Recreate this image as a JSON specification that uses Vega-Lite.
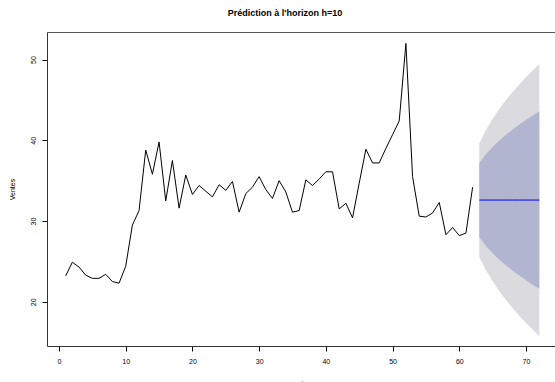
{
"$schema": "https://vega.github.io/schema/vega-lite/v6.json",
"autosize": "none",
"width": 508,
"height": 314,
"padding": {"left": 47, "top": 32, "right": 0, "bottom": 36},
"background": "white",
"title": {"text": "Prédiction à l'horizon h=10", "font": "Liberation Sans", "fontSize": 9, "fontWeight": "bold", "color": "black", "dx": -16, "offset": 7, "baseline": "alphabetic"},
"datasets": {
"hist": [
{"t":1,"v":23.2},{"t":2,"v":24.9},{"t":3,"v":24.3},{"t":4,"v":23.3},{"t":5,"v":22.9},{"t":6,"v":22.9},{"t":7,"v":23.4},{"t":8,"v":22.5},{"t":9,"v":22.3},{"t":10,"v":24.4},
{"t":11,"v":29.5},{"t":12,"v":31.3},{"t":13,"v":38.8},{"t":14,"v":35.8},{"t":15,"v":39.8},{"t":16,"v":32.5},{"t":17,"v":37.5},{"t":18,"v":31.6},{"t":19,"v":35.7},{"t":20,"v":33.3},
{"t":21,"v":34.4},{"t":22,"v":33.7},{"t":23,"v":33.0},{"t":24,"v":34.5},{"t":25,"v":33.8},{"t":26,"v":34.9},{"t":27,"v":31.1},{"t":28,"v":33.4},{"t":29,"v":34.2},{"t":30,"v":35.5},
{"t":31,"v":33.9},{"t":32,"v":32.8},{"t":33,"v":35.0},{"t":34,"v":33.6},{"t":35,"v":31.1},{"t":36,"v":31.3},{"t":37,"v":35.1},{"t":38,"v":34.4},{"t":39,"v":35.2},{"t":40,"v":36.1},
{"t":41,"v":36.1},{"t":42,"v":31.5},{"t":43,"v":32.2},{"t":44,"v":30.4},{"t":45,"v":34.7},{"t":46,"v":38.9},{"t":47,"v":37.2},{"t":48,"v":37.2},{"t":49,"v":39.0},{"t":50,"v":40.7},
{"t":51,"v":42.4},{"t":52,"v":52.0},{"t":53,"v":35.5},{"t":54,"v":30.6},{"t":55,"v":30.5},{"t":56,"v":31.0},{"t":57,"v":32.3},{"t":58,"v":28.3},{"t":59,"v":29.2},{"t":60,"v":28.2},
{"t":61,"v":28.5},{"t":62,"v":34.2}
],
"fc": [
{"t":63,"mean":32.6,"lo80":28.0,"hi80":37.2,"lo95":25.56,"hi95":39.64},
{"t":64,"mean":32.6,"lo80":26.92,"hi80":38.28,"lo95":23.91,"hi95":41.29},
{"t":65,"mean":32.6,"lo80":26.02,"hi80":39.18,"lo95":22.53,"hi95":42.67},
{"t":66,"mean":32.6,"lo80":25.22,"hi80":39.98,"lo95":21.31,"hi95":43.89},
{"t":67,"mean":32.6,"lo80":24.51,"hi80":40.69,"lo95":20.21,"hi95":44.99},
{"t":68,"mean":32.6,"lo80":23.85,"hi80":41.35,"lo95":19.21,"hi95":45.99},
{"t":69,"mean":32.6,"lo80":23.24,"hi80":41.96,"lo95":18.27,"hi95":46.93},
{"t":70,"mean":32.6,"lo80":22.66,"hi80":42.54,"lo95":17.39,"hi95":47.81},
{"t":71,"mean":32.6,"lo80":22.12,"hi80":43.08,"lo95":16.56,"hi95":48.64},
{"t":72,"mean":32.6,"lo80":21.6,"hi80":43.6,"lo95":15.77,"hi95":49.43}
]
},
"config": {
"view": {"stroke": null},
"font": "Liberation Sans",
"axis": {"grid": false, "domainColor": "#333333", "domainWidth": 1, "tickColor": "black", "tickSize": 5, "tickWidth": 1, "labelFontSize": 7, "labelColor": "black", "labelFont": "Liberation Sans", "titleFont": "Liberation Sans", "titleFontSize": 7, "titleFontWeight": "normal", "titleColor": "black"}
},
"resolve": {"axis": {"x": "independent"}},
"layer": [
{"data": {"name": "fc"}, "mark": {"type": "area", "color": "#DBDBDF", "opacity": 1},
 "encoding": {
  "x": {"field": "t", "type": "quantitative", "scale": {"domain": [-1.8, 74.35], "nice": false, "zero": false},
        "axis": {"values": [0,10,20,30,40,50,60,70], "labelPadding": 6, "title": "t", "titleX": 255, "titleY": 39, "titleBaseline": "alphabetic"}},
  "y": {"field": "lo95", "type": "quantitative", "scale": {"domain": [14.52, 53.42], "nice": false, "zero": false},
        "axis": {"values": [20,30,40,50], "labelAngle": 270, "labelAlign": "center", "labelBaseline": "bottom", "labelPadding": 6, "title": "Ventes", "titleX": -35, "titleY": 157, "titleAngle": 270, "titleAlign": "center", "titleBaseline": "middle"}},
  "y2": {"field": "hi95"}
 }},
{"data": {"name": "fc"}, "mark": {"type": "area", "color": "#B1B5CF", "opacity": 1},
 "encoding": {
  "x": {"field": "t", "type": "quantitative", "axis": null},
  "y": {"field": "lo80", "type": "quantitative"},
  "y2": {"field": "hi80"}
 }},
{"data": {"name": "fc"}, "mark": {"type": "line", "color": "#0000FF", "strokeWidth": 1},
 "encoding": {
  "x": {"field": "t", "type": "quantitative", "axis": {"orient": "top", "labels": false, "ticks": false, "title": null, "domainColor": "#555555"}},
  "y": {"field": "mean", "type": "quantitative"}
 }},
{"data": {"name": "hist"}, "mark": {"type": "line", "color": "black", "strokeWidth": 1},
 "encoding": {
  "x": {"field": "t", "type": "quantitative", "axis": null},
  "y": {"field": "v", "type": "quantitative"}
 }}
]
}
